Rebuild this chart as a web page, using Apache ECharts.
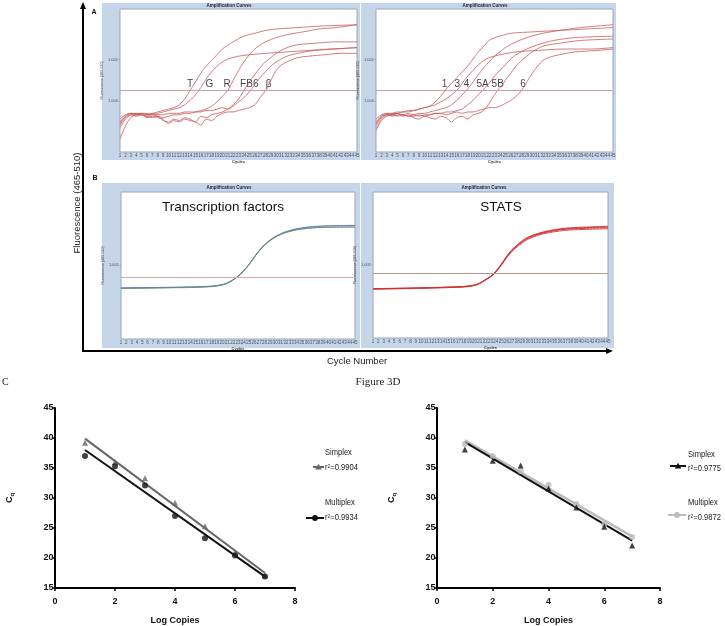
<!DOCTYPE html>
<html><head><meta charset="utf-8">
<script src="https://cdn.jsdelivr.net/npm/echarts@6/dist/echarts.min.js"></script>
<style>html,body{margin:0;padding:0;background:#fff}#c{width:725px;height:626px}</style>
</head><body><div id="c"></div>
<script>
// ---------- Panel A (left): amplification curves, [cycle, fluorescence] ----------
const curveA1_T = [[1,17],[2,23],[3,26],[4,27],[5,27],[6,26],[7,27],[8,28],[9,29],[10,30],[11,31],[12,33],[13,37],[14,43],[15,49],[16,55],[17,60],[18,64],[19,68],[20,72],[22,77],[24,81],[26,83],[28,85],[30,86],[34,87],[38,88],[45,89]];
const curveA1_G = [[1,21],[2,25],[3,27],[4,26],[5,27],[6,27],[7,26],[8,27],[9,28],[10,29],[11,30],[12,31],[13,33],[14,36],[15,40],[16,45],[17,51],[18,56],[19,60],[20,63],[21,65],[23,67],[25,68],[28,69],[32,70],[36,71],[40,72],[45,73]];
const curveA1_R = [[1,23],[2,26],[3,27],[4,26],[5,26],[6,25],[7,26],[8,25],[9,24],[10,25],[11,26],[12,26],[13,27],[14,27],[15,28],[16,29],[17,30],[18,32],[19,35],[20,39],[21,43],[22,50],[23,57],[24,63],[25,68],[26,72],[28,77],[30,80],[32,82],[35,84],[38,86],[41,87],[45,89]];
const curveA1_F = [[1,20],[2,25],[3,27],[4,27],[5,26],[6,25],[7,24],[8,25],[9,22],[10,21],[11,23],[12,22],[13,24],[14,23],[15,21],[16,25],[17,24],[18,26],[19,27],[20,28],[21,30],[22,33],[23,37],[24,43],[25,49],[26,54],[27,59],[28,63],[29,66],[30,69],[32,73],[34,75],[37,76],[41,77],[45,77]];
const curveA1_B6 = [[1,9],[2,18],[3,24],[4,26],[5,27],[6,26],[7,27],[8,26],[9,26],[10,27],[11,27],[12,27],[13,28],[14,28],[15,28],[16,28],[17,29],[18,29],[19,30],[20,31],[21,30],[22,32],[23,35],[24,38],[25,42],[26,47],[27,52],[28,56],[29,60],[30,63],[32,67],[34,69],[37,71],[41,72],[45,73]];
const curveA1_beta = [[1,19],[2,24],[3,26],[4,25],[5,26],[6,24],[7,25],[8,24],[9,23],[10,20],[11,22],[12,21],[13,23],[14,22],[15,21],[16,19],[17,23],[18,22],[19,25],[20,27],[21,28],[22,28],[23,29],[24,30],[25,31],[26,33],[27,38],[28,43],[29,50],[30,57],[31,61],[32,63],[34,66],[36,67],[39,68],[42,69],[45,69]];
const labelsA1 = ['T','G','R','FB6','β'];
const labelCyclesA1 = [14.0, 17.6, 20.9, 25.0, 28.6];

// ---------- Panel A (right) ----------
const curveA2_1 = [[1,19],[2,24],[3,26],[4,27],[5,28],[6,28],[7,29],[8,29],[9,30],[10,31],[11,32],[12,35],[13,39],[14,44],[15,48],[16,52],[17,56],[18,60],[19,65],[20,70],[21,74],[22,78],[23,80],[24,81],[26,83],[30,84],[35,85],[40,86],[45,87]];
const curveA2_3 = [[1,21],[2,25],[3,27],[4,27],[5,27],[6,28],[7,28],[8,29],[9,30],[10,31],[11,32],[12,33],[13,35],[14,37],[15,40],[16,43],[17,48],[18,53],[19,57],[20,61],[21,64],[22,66],[24,68],[27,70],[31,71],[36,72],[41,72],[45,73]];
const curveA2_4 = [[1,17],[2,23],[3,26],[4,26],[5,27],[6,26],[7,27],[8,26],[9,27],[10,27],[11,28],[12,29],[13,30],[14,31],[15,33],[16,36],[17,40],[18,44],[19,49],[20,54],[21,59],[22,63],[23,67],[24,70],[25,73],[27,77],[29,80],[32,83],[35,85],[39,87],[45,89]];
const curveA2_5A = [[1,20],[2,25],[3,26],[4,25],[5,26],[6,26],[7,25],[8,25],[9,26],[10,25],[11,26],[12,27],[13,27],[14,28],[15,28],[16,29],[17,30],[18,33],[19,36],[20,40],[21,44],[22,48],[23,53],[24,57],[25,61],[26,65],[27,68],[29,72],[31,75],[34,78],[38,80],[45,81]];
const curveA2_5B = [[1,23],[2,26],[3,27],[4,26],[5,27],[6,25],[7,26],[8,24],[9,23],[10,25],[11,24],[12,23],[13,25],[14,24],[15,21],[16,24],[17,25],[18,23],[19,26],[20,27],[21,29],[22,34],[23,40],[24,45],[25,50],[26,55],[27,60],[28,64],[29,67],[30,70],[32,74],[35,76],[39,78],[45,79]];
const curveA2_6 = [[1,15],[2,22],[3,25],[4,26],[5,25],[6,26],[7,25],[8,26],[9,25],[10,26],[11,26],[12,27],[13,27],[14,26],[15,27],[16,28],[17,27],[18,28],[19,28],[20,29],[21,30],[22,31],[23,31],[24,32],[25,34],[26,36],[27,39],[28,43],[29,49],[30,55],[31,60],[32,64],[33,66],[35,68],[38,70],[42,71],[45,72]];
const labelsA2 = ['1','3','4','5A','5B','6'];
const labelCyclesA2 = [13.7, 16.1, 17.8, 20.8, 23.6, 28.3];

// ---------- Panel B ----------
const curveB1_blue = [[1,34.8],[5,35.0],[10,35.2],[15,35.5],[18,36.0],[19,36.4],[20,37.0],[21,38.2],[22,40.2],[23,42.8],[24,46.2],[25,50.5],[26,55.5],[27,60.3],[28,64.2],[29,67.3],[30,69.7],[31,71.5],[32,73.0],[34,75.0],[36,76.1],[38,76.7],[41,77.1],[45,77.3]];
const curveB1_green = [[1,34.3],[5,34.5],[10,34.8],[15,35.1],[18,35.6],[19,36.0],[20,36.7],[21,37.9],[22,39.9],[23,42.5],[24,45.9],[25,50.2],[26,55.2],[27,60.0],[28,63.8],[29,66.8],[30,69.2],[31,71.0],[32,72.4],[34,74.2],[36,75.2],[38,75.8],[41,76.1],[45,76.2]];
const curveB1_purple = [[1,34.6],[5,34.8],[10,35.0],[15,35.3],[18,35.8],[19,36.2],[20,36.9],[21,38.1],[22,40.1],[23,42.7],[24,46.1],[25,50.4],[26,55.4],[27,60.1],[28,63.9],[29,66.9],[30,69.3],[31,71.1],[32,72.5],[34,74.3],[36,75.3],[38,75.8],[41,76.0],[45,76.1]];
const curveB1_gray = [[1,34.5],[5,34.7],[10,35.0],[15,35.3],[18,35.8],[19,36.2],[20,36.8],[21,38.0],[22,40.0],[23,42.6],[24,46.0],[25,50.3],[26,55.3],[27,60.2],[28,64.1],[29,67.2],[30,69.6],[31,71.4],[32,72.9],[34,74.8],[36,75.9],[38,76.5],[41,76.9],[45,77.1]];
const curveB2_1 = [[1,33.6],[10,34.2],[18,35.1],[20,36.1],[21,37.5],[22,39.7],[23,42.0],[24,45.4],[25,50.0],[26,55.3],[27,59.8],[28,63.0],[29,66.0],[30,68.3],[32,71.0],[34,72.8],[36,74.0],[38,74.7],[41,75.1],[45,75.6]];
const curveB2_2 = [[1,33.8],[10,34.4],[18,35.3],[20,36.3],[21,37.7],[22,39.9],[23,42.3],[24,45.8],[25,50.5],[26,55.9],[27,60.5],[28,63.8],[29,66.8],[30,69.1],[32,71.8],[34,73.6],[36,74.8],[38,75.5],[41,76.0],[45,76.5]];
const curveB2_3 = [[1,33.4],[10,34.0],[18,34.9],[20,35.9],[21,37.3],[22,39.5],[23,41.8],[24,45.1],[25,49.6],[26,54.8],[27,59.2],[28,62.4],[29,65.3],[30,67.6],[32,70.5],[34,72.2],[36,73.3],[38,74.0],[41,74.4],[45,74.8]];
const curveB2_4 = [[1,33.7],[10,34.3],[18,35.2],[20,36.2],[21,37.6],[22,39.8],[23,42.1],[24,45.6],[25,50.2],[26,55.6],[27,60.1],[28,63.4],[29,66.4],[30,68.7],[32,71.4],[34,73.2],[36,74.4],[38,75.1],[41,75.6],[45,76.0]];

const thresholdA = 43, thresholdB1 = 42.0, thresholdB2 = 44.3;
const yTickValsA = [35.4, 64.6], yTickTextsA = ['1.000', '1.001'];
const yTickValsB = [50.2], yTickTextsB = ['1.001'];

// ---------- Panel C: standard curves ----------
const logCopies = [1, 2, 3, 4, 5, 6, 7];
const leftSimplexCq = [39.2, 36.0, 33.3, 29.2, 25.3, 20.9, 17.1];
const leftMultiplexCq = [37.0, 35.3, 32.1, 27.0, 23.3, 20.4, 16.9];
const rightSimplexCq = [38.1, 36.2, 35.4, 31.6, 28.4, 25.2, 22.1];
const rightMultiplexCq = [39.0, 37.0, 34.5, 32.2, 29.0, 25.6, 23.5];
const leftSimplexFit = [[1, 39.9], [7, 17.5]];
const leftMultiplexFit = [[1, 38.0], [7, 16.9]];
const rightSimplexFit = [[1, 39.3], [7, 22.9]];
const rightMultiplexFit = [[1, 39.6], [7, 23.6]];
const seriesNames = ['Simplex', 'Multiplex'];
const r2Left = ['0.9904', '0.9934'];
const r2Right = ['0.9775', '0.9872'];

// ---------- styles / helpers ----------
const FONT = "'Liberation Sans', Arial, sans-serif";
const NARROW = "'Liberation Sans Narrow', 'Arial Narrow', 'Liberation Sans', sans-serif";
const SERIF = "'Liberation Serif', 'Times New Roman', serif";
const BLUE_BG = '#c6d6e9';
const AMP_RED = '#c85b5b';

function cycleAxis(g) {
  return { type: 'value', gridIndex: g, min: 1, max: 45, interval: 1,
    name: 'Cycles', nameLocation: 'middle', nameGap: 5.5,
    nameTextStyle: { fontSize: 4, fontWeight: 'bold', color: '#333', fontFamily: FONT },
    axisLine: { show: false }, axisTick: { show: false }, splitLine: { show: false },
    axisLabel: { fontSize: 4.5, color: '#4a5060', margin: 1.6, fontFamily: FONT } };
}
function fluoAxis(g, vals, texts) {
  return { type: 'value', gridIndex: g, min: 0, max: 100,
    name: 'Fluorescence (465-510)', nameLocation: 'middle', nameGap: 10,
    nameTextStyle: { fontSize: 3.6, color: '#333', fontFamily: FONT },
    axisLine: { show: false }, splitLine: { show: false },
    axisTick: { show: true, customValues: vals, length: 1.5, lineStyle: { color: '#889', width: 0.6 } },
    axisLabel: { customValues: vals, fontSize: 4, color: '#4a5060', margin: 2, fontFamily: FONT,
      formatter: function (v) {
        let best = 0;
        for (let i = 0; i < vals.length; i++) if (Math.abs(vals[i] - v) < Math.abs(vals[best] - v)) best = i;
        return texts[best];
      } } };
}
function curve(data, g, color, width, thr, thrColor) {
  const s = { type: 'line', xAxisIndex: g, yAxisIndex: g, data: data, smooth: 0.3,
    showSymbol: false, silent: true, animation: false,
    lineStyle: { color: color, width: width } };
  if (thr !== undefined) {
    s.markLine = { silent: true, symbol: 'none', label: { show: false }, animation: false,
      lineStyle: { color: thrColor, width: 1.1, type: 'solid' }, data: [{ yAxis: thr }] };
  }
  return s;
}
function labelSeries(g, names, cyc, thr) {
  return { type: 'scatter', xAxisIndex: g, yAxisIndex: g, symbolSize: 0, silent: true, animation: false,
    data: cyc.map((c, i) => ({ name: names[i], value: [c, thr] })),
    label: { show: true, position: 'top', distance: 1.5, formatter: '{b}', fontSize: 10,
      color: '#111', fontFamily: FONT } };
}
function copiesAxis(g) {
  return { type: 'value', gridIndex: g, min: 0, max: 8, interval: 2,
    name: 'Log Copies', nameLocation: 'middle', nameGap: 28,
    nameTextStyle: { fontSize: 9, fontWeight: 'bold', color: '#111', fontFamily: FONT },
    axisLine: { onZero: false, lineStyle: { color: '#000', width: 2 } },
    axisTick: { length: 3, lineStyle: { color: '#000', width: 1.5 } },
    axisLabel: { fontSize: 9, fontWeight: 'bold', color: '#111', margin: 9.5, fontFamily: FONT },
    splitLine: { show: false } };
}
function cqAxis(g) {
  return { type: 'value', gridIndex: g, min: 15, max: 45, interval: 5,
    name: '{c|C}{q|q}', nameLocation: 'middle', nameGap: 40, nameRotate: 90,
    nameTextStyle: { rich: {
      c: { fontSize: 9, fontWeight: 'bold', color: '#111', fontFamily: FONT },
      q: { fontSize: 6, fontWeight: 'bold', color: '#111', fontFamily: FONT, verticalAlign: 'bottom', padding: [4, 0, 0, 0] } } },
    axisLine: { onZero: false, lineStyle: { color: '#000', width: 2 } },
    axisTick: { length: 3, lineStyle: { color: '#000', width: 1.5 } },
    axisLabel: { fontSize: 9, fontWeight: 'bold', color: '#111', margin: 1.5, fontFamily: FONT },
    splitLine: { show: false } };
}
function pts(y) { return logCopies.map((x, i) => [x, y[i]]); }
function scat(g, y, symbol, color, size) {
  return { type: 'scatter', xAxisIndex: g, yAxisIndex: g, data: pts(y), symbol: symbol,
    symbolSize: size, itemStyle: { color: color }, silent: true, animation: false, z: 3 };
}
function fit(g, d, color, w, z) {
  return { type: 'line', xAxisIndex: g, yAxisIndex: g, data: d, showSymbol: false, silent: true,
    animation: false, lineStyle: { color: color, width: w }, z: z };
}

// ---------- graphics ----------
function txt(x, y, text, opts) {
  return Object.assign({ type: 'text', x: x, y: y, silent: true,
    style: Object.assign({ text: text, align: 'center', verticalAlign: 'middle', fill: '#111',
      font: '10px ' + FONT }, opts && opts.style) }, opts && opts.el);
}
function legendEntry(x1, x2, ySym, color, symbol, lw, tx, yName, yR2, name, r2) {
  const cx = (x1 + x2) / 2;
  const out = [
    { type: 'line', silent: true, shape: { x1: x1, y1: ySym, x2: x2, y2: ySym }, style: { stroke: color, lineWidth: lw } }
  ];
  if (symbol === 'triangle') {
    out.push({ type: 'polygon', silent: true, shape: { points: [[cx, ySym - 3.2], [cx - 3.3, ySym + 2.4], [cx + 3.3, ySym + 2.4]] }, style: { fill: color } });
  } else {
    out.push({ type: 'circle', silent: true, shape: { cx: cx, cy: ySym, r: 2.9 }, style: { fill: color } });
  }
  out.push(txt(tx, yName, name, { style: { align: 'left', font: '9px ' + NARROW, fill: '#222' }, el: { scaleX: 0.84 } }));
  out.push({ type: 'text', x: tx, y: yR2, scaleX: 0.84, silent: true, style: {
    text: '{a|r}{s|2}{a|=' + r2 + '}', align: 'left', verticalAlign: 'middle',
    rich: { a: { fontSize: 9, fontFamily: NARROW, fill: '#222', color: '#222' },
            s: { fontSize: 6, fontFamily: NARROW, fill: '#222', color: '#222', verticalAlign: 'top' } } } });
  return out;
}

const graphics = [
  { type: 'rect', z: -10, silent: true, shape: { x: 102, y: 3, width: 258, height: 157 }, style: { fill: BLUE_BG } },
  { type: 'rect', z: -10, silent: true, shape: { x: 361, y: 3, width: 255, height: 157 }, style: { fill: BLUE_BG } },
  { type: 'rect', z: -10, silent: true, shape: { x: 102, y: 183, width: 258, height: 165 }, style: { fill: BLUE_BG } },
  { type: 'rect', z: -10, silent: true, shape: { x: 361, y: 183, width: 253, height: 165 }, style: { fill: BLUE_BG } },
  { type: 'line', silent: true, shape: { x1: 83, y1: 352, x2: 83, y2: 7 }, style: { stroke: '#000', lineWidth: 2 } },
  { type: 'line', silent: true, shape: { x1: 82, y1: 351, x2: 607, y2: 351 }, style: { stroke: '#000', lineWidth: 2 } },
  { type: 'polygon', silent: true, shape: { points: [[80, 9], [86, 9], [83, 2]] }, style: { fill: '#000' } },
  { type: 'polygon', silent: true, shape: { points: [[606, 348], [606, 354], [613, 351]] }, style: { fill: '#000' } },
  txt(94, 12, 'A', { style: { font: 'bold 7px ' + FONT } }),
  txt(95, 178, 'B', { style: { font: 'bold 7px ' + FONT } }),
  txt(77, 203, 'Fluorescence (465-510)', { style: { font: '9.5px ' + FONT, fill: '#222' }, el: { rotation: Math.PI / 2 } }),
  txt(357, 361, 'Cycle Number', { style: { font: '9.5px ' + FONT, fill: '#222' } }),
  txt(378, 382, 'Figure 3D', { style: { font: '11px ' + SERIF, fill: '#222' } }),
  txt(2, 382, 'C', { style: { font: '10px ' + SERIF, fill: '#222', align: 'left' } }),
  txt(229, 5.5, 'Amplification Curves', { style: { font: 'bold 4.5px ' + FONT, fill: '#223' } }),
  txt(485, 5.5, 'Amplification Curves', { style: { font: 'bold 4.5px ' + FONT, fill: '#223' } }),
  txt(229, 187.5, 'Amplification Curves', { style: { font: 'bold 4.5px ' + FONT, fill: '#223' } }),
  txt(484, 187.5, 'Amplification Curves', { style: { font: 'bold 4.5px ' + FONT, fill: '#223' } }),
  txt(223, 207, 'Transcription factors', { style: { font: '13.5px ' + FONT, fill: '#111' } }),
  txt(501, 207, 'STATS', { style: { font: '13.5px ' + FONT, fill: '#111' } })
].concat(
  legendEntry(313, 324, 467, '#666', 'triangle', 2, 325, 453, 468, seriesNames[0], r2Left[0]),
  legendEntry(306, 324, 518, '#111', 'circle', 2, 325, 503, 518, seriesNames[1], r2Left[1]),
  legendEntry(670, 686, 466, '#111', 'triangle', 2, 688, 455, 469, seriesNames[0], r2Right[0]),
  legendEntry(668, 686, 515, '#bbb', 'circle', 2, 688, 503, 518, seriesNames[1], r2Right[1])
);

const gridStyle = { show: true, backgroundColor: '#fff', borderColor: '#98a6bb', borderWidth: 1 };
const option = {
  animation: false,
  grid: [
    Object.assign({ left: 120, top: 9, width: 237, height: 143 }, gridStyle),
    Object.assign({ left: 376, top: 9, width: 237, height: 143 }, gridStyle),
    Object.assign({ left: 121, top: 192, width: 234, height: 147 }, gridStyle),
    Object.assign({ left: 373, top: 192, width: 235, height: 146 }, gridStyle),
    { left: 55, top: 408, width: 240, height: 180 },
    { left: 437, top: 408, width: 223, height: 183 }
  ],
  xAxis: [cycleAxis(0), cycleAxis(1), cycleAxis(2), cycleAxis(3), copiesAxis(4), copiesAxis(5)],
  yAxis: [fluoAxis(0, yTickValsA, yTickTextsA), fluoAxis(1, yTickValsA, yTickTextsA),
          fluoAxis(2, yTickValsB, yTickTextsB), fluoAxis(3, yTickValsB, yTickTextsB), cqAxis(4), cqAxis(5)],
  graphic: graphics,
  series: [
    curve(curveA1_T, 0, AMP_RED, 0.8, thresholdA, '#c9a0a0'),
    curve(curveA1_G, 0, AMP_RED, 0.8), curve(curveA1_R, 0, AMP_RED, 0.8),
    curve(curveA1_F, 0, AMP_RED, 0.8), curve(curveA1_B6, 0, AMP_RED, 0.8), curve(curveA1_beta, 0, AMP_RED, 0.8),
    labelSeries(0, labelsA1, labelCyclesA1, thresholdA),
    curve(curveA2_1, 1, AMP_RED, 0.8, thresholdA, '#c9a0a0'),
    curve(curveA2_3, 1, AMP_RED, 0.8), curve(curveA2_4, 1, AMP_RED, 0.8),
    curve(curveA2_5A, 1, AMP_RED, 0.8), curve(curveA2_5B, 1, AMP_RED, 0.8), curve(curveA2_6, 1, AMP_RED, 0.8),
    labelSeries(1, labelsA2, labelCyclesA2, thresholdA),
    curve(curveB1_gray, 2, '#7a7a8a', 0.8, thresholdB1, '#d8a8b0'),
    curve(curveB1_purple, 2, '#9b62b5', 0.8), curve(curveB1_blue, 2, '#4f72c9', 0.8), curve(curveB1_green, 2, '#5aa35b', 0.8),
    curve(curveB2_1, 3, '#d23a3a', 0.9, thresholdB2, '#b39a88'),
    curve(curveB2_2, 3, '#d23a3a', 0.9), curve(curveB2_3, 3, '#d23a3a', 0.9), curve(curveB2_4, 3, '#c83030', 0.9),
    fit(4, leftSimplexFit, '#666', 2, 2), fit(4, leftMultiplexFit, '#111', 2, 2),
    scat(4, leftSimplexCq, 'triangle', '#666', 6), scat(4, leftMultiplexCq, 'circle', '#111', 6),
    fit(5, rightMultiplexFit, '#bbb', 2.5, 2), fit(5, rightSimplexFit, '#111', 2, 2),
    scat(5, rightMultiplexCq, 'circle', '#bbb', 6), scat(5, rightSimplexCq, 'triangle', '#111', 6)
  ]
};
const chart = echarts.init(document.getElementById('c'), null, { renderer: 'canvas' });
chart.setOption(option);
</script></body></html>
